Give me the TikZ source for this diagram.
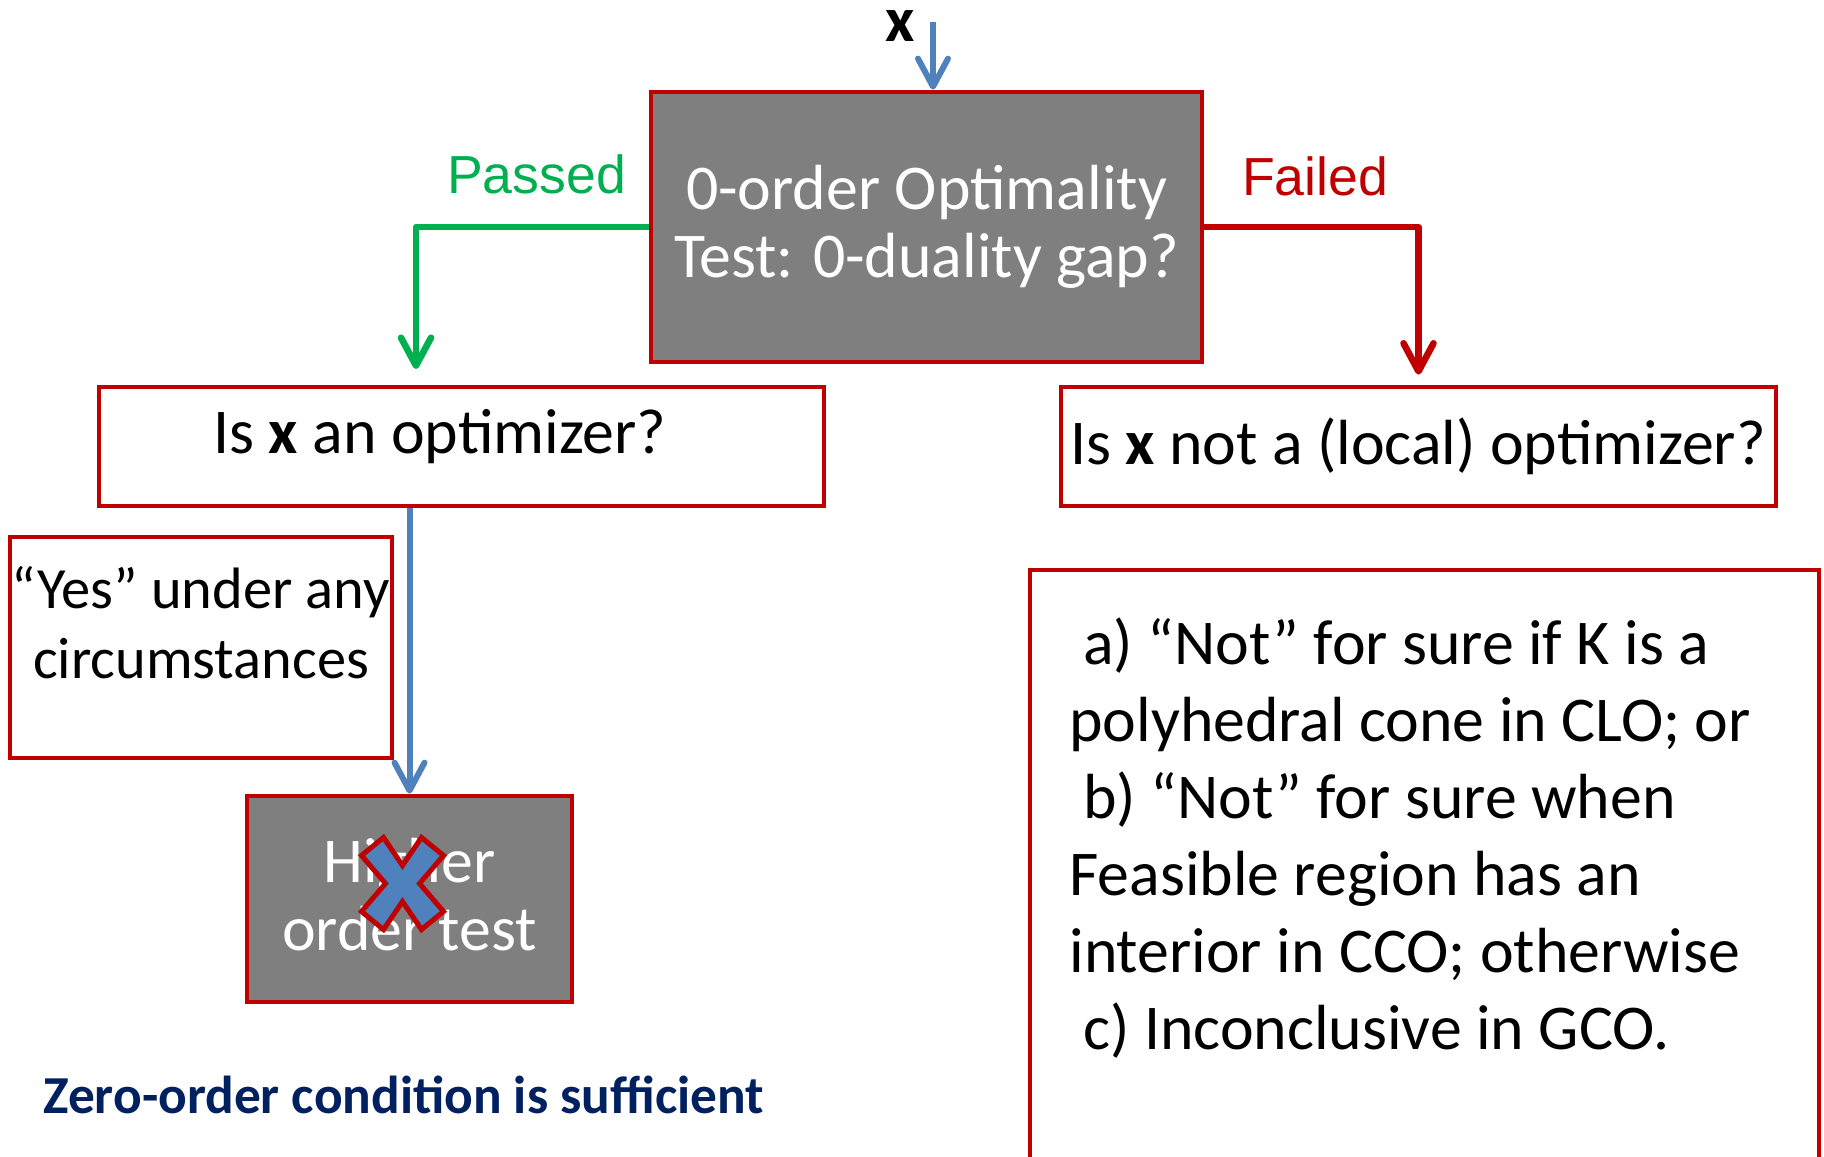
\documentclass[tikz,border=0pt]{standalone}
\usepackage{fontspec}
\setmainfont{Carlito}
\newfontfamily\arialf{Liberation Sans}
\usetikzlibrary{arrows.meta}
\definecolor{boxred}{HTML}{C00000}
\definecolor{boxgray}{HTML}{7F7F7F}
\definecolor{passgreen}{HTML}{00B050}
\definecolor{arrowblue}{HTML}{4F81BD}
\definecolor{navy}{HTML}{002060}
\begin{document}
\begin{tikzpicture}[x=0.5pt,y=-0.5pt,
  box/.style={draw=boxred, line width=2.4pt, inner sep=0pt, rectangle},
  dark/.style={box, fill=boxgray, text=white},
  big/.style={font=\fontsize{31.9}{34}\selectfont},
  conn/.style={line width=3.3pt, line join=round, -{Straight Barb[length=14pt,width=15pt,round]}},
  lbl/.style={font=\arialf\fontsize{26.8}{30}\selectfont, inner sep=0pt},
]
\useasboundingbox (0,0) rectangle (1824,1156);

% main test box
\node[dark, minimum width=275.5pt, minimum height=135pt, align=center, big] (test) at (926.5,227)
  {0-order Optimality\\Test: 0-duality gap?};

% input x
\node[big, anchor=base, inner sep=0pt] (xlab) at (900,42) {\textbf{x}};
\coordinate (xin) at (933,22);
\draw[conn, arrowblue, line width=3pt] (xin) -- (xin |- test.north);

% question boxes
\node[box, minimum width=362.5pt, minimum height=59.5pt] (optA) at (461.5,446.5) {};
\node[big, anchor=base, inner sep=0pt] (tA) at (440,453) {Is \textbf{x} an optimizer?};
\node[box, minimum width=357.5pt, minimum height=59.5pt] (optB) at (1418.5,446.5) {};
\node[big, anchor=base, inner sep=0pt] (tB) at (1418,464) {Is \textbf{x} not a (local) optimizer?};

% branches
\coordinate (gA) at (416,369);
\draw[conn, passgreen] (test.west) -| (gA);
\node[lbl, text=passgreen, anchor=base] (passed) at (536.5,193) {Passed};
\draw[conn, boxred] (test.east) -| ([yshift=5pt]optB.north);
\node[lbl, text=boxred, anchor=base] (failed) at (1315,195) {Failed};

% yes box
\node[box, minimum width=191pt, minimum height=110.5pt] (yes) at (201,647.5) {};
\node[anchor=base, align=center, inner sep=0pt, font=\fontsize{29.2}{35}\selectfont] (tyes) at (201,678)
  {“Yes” under any\\circumstances};

% higher order test
\node[dark, minimum width=162.5pt, minimum height=103pt] (high) at (409.5,899) {};
\node[anchor=base, align=center, inner sep=0pt, text=white, font=\fontsize{31.9}{34}\selectfont] (thigh) at (409.5,950)
  {Higher\\order test};
\draw[conn, arrowblue, line width=3pt] (optA.south -| high.north) -- (high.north);

% cross
\begin{scope}[shift={(402.5,883.5)}]
\draw[fill=arrowblue, draw=boxred, line width=2.5pt, line join=miter]
  (0,-18) -- (19,-46) -- (41,-28) -- (17,0) -- (41,28) -- (19,46) -- (0,18)
  -- (-19,46) -- (-41,28) -- (-17,0) -- (-41,-28) -- (-19,-46) -- cycle;
\end{scope}

% right explanation box
\node[box, minimum width=394.5pt, minimum height=305pt] (boxE) at (1424.5,875) {};
\node[anchor=base west, align=left, inner sep=0pt, font=\fontsize{31.9}{38.5}\selectfont] (tE) at (1069,1049)
  {\hspace*{7pt}a) “Not” for sure if K is a\\
   polyhedral cone in CLO; or\\
   \hspace*{7pt}b) “Not” for sure when\\
   Feasible region has an\\
   interior in CCO; otherwise\\
   \hspace*{7pt}c) Inconclusive in GCO.};

% caption
\node[anchor=base west, inner sep=0pt, text=navy, font=\bfseries\fontsize{26.7}{30}\selectfont] (cap) at (43,1113)
  {Zero-order condition is sufficient};
\end{tikzpicture}
\end{document}
